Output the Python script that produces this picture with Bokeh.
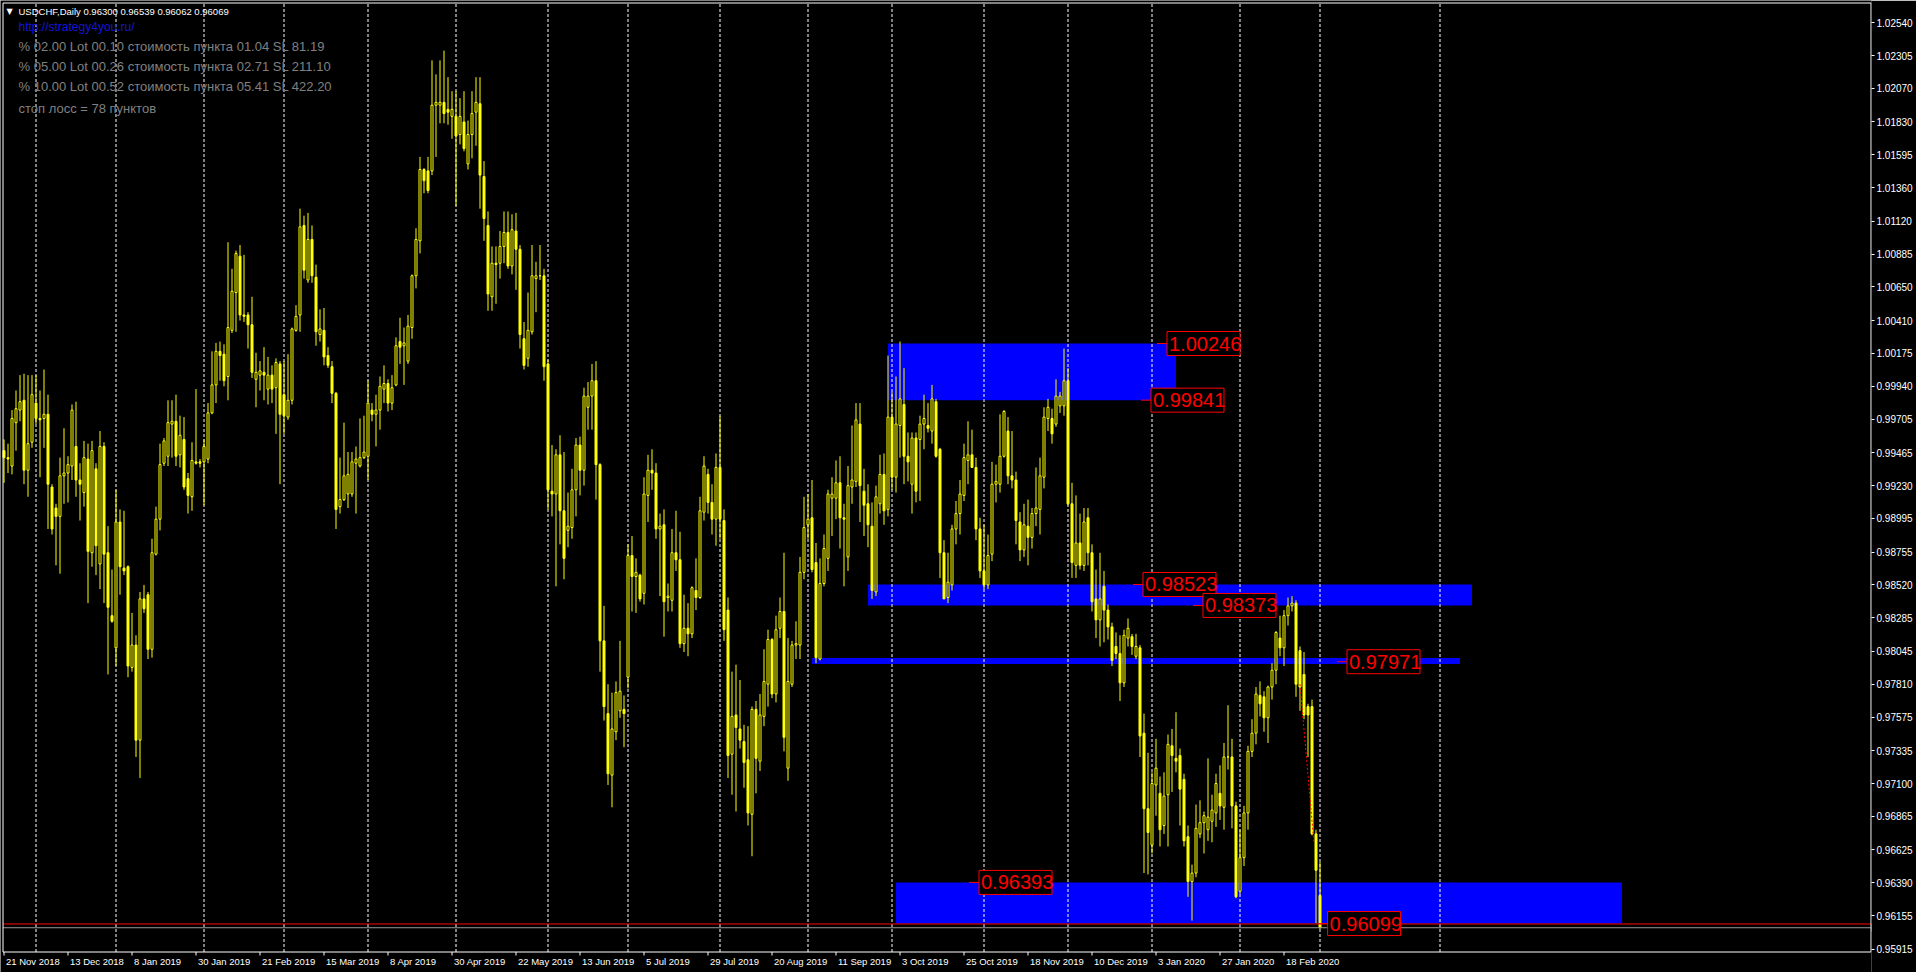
from bokeh.plotting import figure
from bokeh.models import (FixedTicker, PrintfTickFormatter, Label, ColumnDataSource, Range1d)
from bokeh.embed import file_html
from bokeh.resources import INLINE
from bokeh.core.properties import value

# ---------------- data (USDCHF daily, bar 0 = 21 Nov 2018, last = 2 Mar 2020) -------------
opens = [
    0.9948, 0.9943, 0.9937, 0.9968, 0.9977, 0.9984, 0.9934, 0.9954, 0.9982, 0.9971,
    0.9971, 0.9974, 0.9922, 0.9907, 0.9901, 0.9930, 0.9932, 0.9937, 0.9951, 0.9927,
    0.9918, 0.9942, 0.9875, 0.9935, 0.9867, 0.9951, 0.9875, 0.9830, 0.9807, 0.9897,
    0.9864, 0.9865, 0.9793, 0.9809, 0.9741, 0.9842, 0.9845, 0.9806, 0.9874, 0.9899,
    0.9939, 0.9944, 0.9967, 0.9969, 0.9945, 0.9956, 0.9928, 0.9915, 0.9940, 0.9940,
    0.9940, 0.9942, 0.9975, 0.9995, 1.0019, 1.0017, 1.0001, 1.0034, 1.0061, 1.0087,
    1.0045, 1.0045, 1.0038, 0.9999, 1.0002, 1.0004, 0.9992, 1.0002, 0.9993, 1.0010,
    0.9988, 0.9972, 0.9984, 1.0034, 1.0045, 1.0109, 1.0070, 1.0099, 1.0072, 1.0031,
    1.0034, 1.0016, 1.0008, 0.9989, 0.9908, 0.9913, 0.9917, 0.9917, 0.9939, 0.9937,
    0.9943, 0.9944, 0.9977, 0.9974, 0.9977, 0.9992, 0.9996, 0.9982, 0.9995, 1.0026,
    1.0023, 1.0012, 1.0036, 1.0073, 1.0098, 1.0149, 1.0148, 1.0148, 1.0195, 1.0195,
    1.0197, 1.0192, 1.0187, 1.0187, 1.0174, 1.0183, 1.0153, 1.0174, 1.0190, 1.0196,
    1.0144, 1.0109, 1.0058, 1.0082, 1.0082, 1.0094, 1.0104, 1.0080, 1.0105, 1.0092,
    1.0028, 1.0014, 1.0033, 1.0071, 1.0073, 1.0073, 1.0010, 0.9919, 0.9917, 0.9945,
    0.9905, 0.9891, 0.9893, 0.9920, 0.9952, 0.9934, 0.9979, 0.9987, 0.9998, 0.9938,
    0.9812, 0.9760, 0.9716, 0.9747, 0.9762, 0.9763, 0.9786, 0.9873, 0.9858, 0.9859,
    0.9846, 0.9916, 0.9934, 0.9932, 0.9892, 0.9895, 0.9843, 0.9841, 0.9875, 0.9870,
    0.9810, 0.9821, 0.9817, 0.9848, 0.9843, 0.9904, 0.9931, 0.9911, 0.9899, 0.9936,
    0.9898, 0.9834, 0.9731, 0.9759, 0.9749, 0.9740, 0.9727, 0.9688, 0.9763, 0.9726,
    0.9758, 0.9781, 0.9813, 0.9774, 0.9821, 0.9833, 0.9721, 0.9781, 0.9809, 0.9809,
    0.9861, 0.9895, 0.9900, 0.9868, 0.9799, 0.9853, 0.9871, 0.9914, 0.9914, 0.9925,
    0.9900, 0.9872, 0.9922, 0.9926, 0.9967, 0.9919, 0.9910, 0.9894, 0.9847, 0.9910,
    0.9931, 0.9906, 0.9972, 0.9929, 0.9966, 0.9981, 0.9944, 0.9924, 0.9957, 0.9956,
    0.9967, 0.9966, 0.9962, 0.9983, 0.9949, 0.9875, 0.9843, 0.9852, 0.9892, 0.9903,
    0.9916, 0.9941, 0.9945, 0.9936, 0.9892, 0.9862, 0.9852, 0.9874, 0.9924, 0.9924,
    0.9944, 0.9962, 0.9930, 0.9927, 0.9897, 0.9877, 0.9894, 0.9886, 0.9903, 0.9906,
    0.9929, 0.9971, 0.9971, 0.9967, 0.9980, 0.9980, 0.9998, 0.9910, 0.9866, 0.9882,
    0.9866, 0.9900, 0.9875, 0.9842, 0.9827, 0.9851, 0.9834, 0.9822, 0.9808, 0.9803,
    0.9782, 0.9814, 0.9815, 0.9801, 0.9807, 0.9746, 0.9692, 0.9666, 0.9709, 0.9703,
    0.9680, 0.9702, 0.9737, 0.9728, 0.9730, 0.9713, 0.9672, 0.9640, 0.9646, 0.9674,
    0.9682, 0.9677, 0.9683, 0.9689, 0.9703, 0.9693, 0.9729, 0.9729, 0.9694, 0.9633,
    0.9657, 0.9689, 0.9733, 0.9746, 0.9773, 0.9772, 0.9757, 0.9779, 0.9791, 0.9814,
    0.9807, 0.9830, 0.9837, 0.9839, 0.9805, 0.9788, 0.9765, 0.9765, 0.9674, 0.96300,
]
highs = [
    0.9956, 0.9953, 0.9977, 0.9991, 1.0002, 1.0003, 1.0002, 1.0002, 1.0002, 0.9991,
    1.0006, 0.9988, 0.9924, 0.9910, 0.9943, 0.9964, 0.9944, 0.9981, 0.9983, 0.9939,
    0.9955, 0.9953, 0.9955, 0.9939, 0.9962, 0.9954, 0.9894, 0.9863, 0.9920, 0.9906,
    0.9905, 0.9866, 0.9832, 0.9816, 0.9847, 0.9852, 0.9847, 0.9885, 0.9908, 0.9953,
    0.9957, 0.9984, 0.9984, 0.9988, 0.9973, 0.9972, 0.9932, 0.9954, 0.9992, 0.9942,
    0.9956, 0.9982, 1.0019, 1.0025, 1.0026, 1.0024, 1.0097, 1.0078, 1.0091, 1.0095,
    1.0088, 1.0047, 1.0058, 1.0018, 1.0012, 1.0022, 1.0015, 1.0009, 1.0014, 1.0012,
    1.0012, 1.0017, 1.0036, 1.0052, 1.0121, 1.0116, 1.0118, 1.0109, 1.0081, 1.0049,
    1.0050, 1.0022, 1.0012, 0.9990, 0.9943, 0.9968, 0.9947, 0.9947, 0.9951, 0.9971,
    0.9973, 0.9998, 0.9982, 0.9988, 1.0001, 1.0009, 0.9999, 1.0002, 1.0029, 1.0043,
    1.0036, 1.0045, 1.0074, 1.0107, 1.0158, 1.0150, 1.0158, 1.0227, 1.0217, 1.0227,
    1.0234, 1.0215, 1.0205, 1.0205, 1.0200, 1.0205, 1.0184, 1.0205, 1.0215, 1.0215,
    1.0155, 1.0119, 1.0094, 1.0094, 1.0105, 1.0119, 1.0119, 1.0117, 1.0118, 1.0095,
    1.0040, 1.0061, 1.0095, 1.0083, 1.0095, 1.0078, 1.0013, 0.9952, 0.9949, 0.9959,
    0.9947, 0.9918, 0.9935, 0.9957, 0.9958, 0.9993, 0.9997, 1.0010, 1.0012, 0.9939,
    0.9837, 0.9781, 0.9775, 0.9783, 0.9812, 0.9773, 0.9881, 0.9887, 0.9871, 0.9860,
    0.9929, 0.9945, 0.9949, 0.9939, 0.9903, 0.9906, 0.9853, 0.9892, 0.9905, 0.9890,
    0.9845, 0.9839, 0.9851, 0.9871, 0.9915, 0.9944, 0.9935, 0.9924, 0.9946, 0.9973,
    0.9906, 0.9843, 0.9790, 0.9795, 0.9784, 0.9752, 0.9751, 0.9765, 0.9769, 0.9774,
    0.9806, 0.9820, 0.9814, 0.9830, 0.9843, 0.9875, 0.9814, 0.9812, 0.9826, 0.9872,
    0.9915, 0.9917, 0.9927, 0.9882, 0.9871, 0.9888, 0.9920, 0.9929, 0.9941, 0.9944,
    0.9910, 0.9937, 0.9966, 0.9982, 0.9982, 0.9935, 0.9924, 0.9911, 0.9923, 0.9945,
    0.9946, 1.0016, 0.9990, 1.0001, 1.0026, 1.0007, 0.9961, 0.9961, 0.9961, 0.9973,
    0.9988, 0.9982, 0.9995, 0.9985, 0.9950, 0.9884, 0.9875, 0.9895, 0.9912, 0.9927,
    0.9953, 0.9969, 0.9963, 0.9943, 0.9900, 0.9895, 0.9888, 0.9940, 0.9938, 0.9974,
    0.9977, 0.9972, 0.9962, 0.9933, 0.9904, 0.9910, 0.9913, 0.9907, 0.9936, 0.9943,
    0.9979, 0.9985, 0.9978, 0.9999, 0.9990, 1.0021, 1.0007, 0.9925, 0.9916, 0.9903,
    0.9907, 0.9907, 0.9881, 0.9863, 0.9875, 0.9862, 0.9838, 0.9825, 0.9818, 0.9816,
    0.9820, 0.9828, 0.9817, 0.9817, 0.9809, 0.9760, 0.9732, 0.9718, 0.9742, 0.9715,
    0.9718, 0.9745, 0.9749, 0.9761, 0.9735, 0.9717, 0.9680, 0.9652, 0.9695, 0.9698,
    0.9690, 0.9728, 0.9702, 0.9717, 0.9723, 0.9739, 0.9766, 0.9742, 0.9697, 0.9677,
    0.9694, 0.9737, 0.9756, 0.9779, 0.9783, 0.9776, 0.9780, 0.9796, 0.9819, 0.9830,
    0.9834, 0.9843, 0.9844, 0.9841, 0.9808, 0.9804, 0.9767, 0.9770, 0.9677, 0.96539,
]
lows = [
    0.9925, 0.9932, 0.9931, 0.9948, 0.9969, 0.9924, 0.9915, 0.9950, 0.9967, 0.9929,
    0.9950, 0.9892, 0.9888, 0.9866, 0.9860, 0.9910, 0.9911, 0.9927, 0.9915, 0.9898,
    0.9908, 0.9839, 0.9865, 0.9859, 0.9849, 0.9839, 0.9788, 0.9825, 0.9794, 0.9845,
    0.9859, 0.9786, 0.9790, 0.9729, 0.9714, 0.9832, 0.9799, 0.9800, 0.9873, 0.9891,
    0.9937, 0.9937, 0.9943, 0.9937, 0.9936, 0.9920, 0.9903, 0.9905, 0.9938, 0.9936,
    0.9909, 0.9939, 0.9974, 0.9982, 0.9998, 0.9994, 0.9984, 1.0032, 1.0033, 1.0041,
    1.0040, 1.0021, 1.0000, 0.9979, 0.9991, 0.9984, 0.9981, 0.9982, 0.9960, 0.9924,
    0.9960, 0.9970, 0.9981, 1.0033, 1.0033, 1.0071, 1.0068, 1.0068, 1.0023, 1.0026,
    1.0009, 1.0007, 0.9982, 0.9892, 0.9903, 0.9912, 0.9907, 0.9915, 0.9903, 0.9936,
    0.9942, 0.9927, 0.9969, 0.9951, 0.9963, 0.9982, 0.9976, 0.9977, 0.9994, 1.0010,
    0.9995, 1.0010, 1.0028, 1.0064, 1.0089, 1.0132, 1.0132, 1.0145, 1.0158, 1.0182,
    1.0182, 1.0181, 1.0171, 1.0123, 1.0167, 1.0162, 1.0149, 1.0157, 1.0166, 1.0121,
    1.0098, 1.0048, 1.0048, 1.0053, 1.0071, 1.0082, 1.0078, 1.0074, 1.0063, 1.0021,
    1.0006, 1.0008, 1.0031, 1.0047, 1.0070, 0.9998, 0.9906, 0.9901, 0.9851, 0.9881,
    0.9856, 0.9879, 0.9885, 0.9901, 0.9916, 0.9923, 0.9963, 0.9963, 0.9913, 0.9790,
    0.9755, 0.9709, 0.9693, 0.9741, 0.9757, 0.9736, 0.9778, 0.9833, 0.9832, 0.9840,
    0.9838, 0.9897, 0.9920, 0.9885, 0.9844, 0.9815, 0.9833, 0.9833, 0.9862, 0.9807,
    0.9804, 0.9801, 0.9814, 0.9834, 0.9842, 0.9898, 0.9903, 0.9888, 0.9880, 0.9885,
    0.9812, 0.9714, 0.9702, 0.9690, 0.9735, 0.9707, 0.9680, 0.9658, 0.9703, 0.9719,
    0.9751, 0.9765, 0.9771, 0.9768, 0.9814, 0.9733, 0.9712, 0.9779, 0.9799, 0.9799,
    0.9856, 0.9885, 0.9861, 0.9796, 0.9798, 0.9851, 0.9862, 0.9887, 0.9899, 0.9878,
    0.9851, 0.9862, 0.9910, 0.9922, 0.9897, 0.9887, 0.9879, 0.9842, 0.9844, 0.9903,
    0.9895, 0.9901, 0.9920, 0.9918, 0.9943, 0.9924, 0.9926, 0.9903, 0.9911, 0.9912,
    0.9949, 0.9961, 0.9953, 0.9943, 0.9857, 0.9842, 0.9839, 0.9848, 0.9881, 0.9888,
    0.9912, 0.9924, 0.9936, 0.9884, 0.9857, 0.9849, 0.9849, 0.9869, 0.9911, 0.9918,
    0.9943, 0.9924, 0.9921, 0.9881, 0.9869, 0.9872, 0.9866, 0.9878, 0.9894, 0.9888,
    0.9921, 0.9962, 0.9953, 0.9965, 0.9975, 0.9973, 0.9909, 0.9857, 0.9857, 0.9863,
    0.9862, 0.9866, 0.9833, 0.9814, 0.9808, 0.9811, 0.9813, 0.9794, 0.9799, 0.9769,
    0.9779, 0.9808, 0.9802, 0.9799, 0.9729, 0.9646, 0.9645, 0.9660, 0.9687, 0.9665,
    0.9674, 0.9665, 0.9704, 0.9718, 0.9680, 0.9665, 0.9629, 0.9612, 0.9643, 0.9671,
    0.9660, 0.9669, 0.9668, 0.9679, 0.9684, 0.9677, 0.9720, 0.9678, 0.9628, 0.9631,
    0.9651, 0.9677, 0.9729, 0.9738, 0.9758, 0.9747, 0.9739, 0.9770, 0.9781, 0.9801,
    0.9794, 0.9823, 0.9833, 0.9772, 0.9762, 0.9756, 0.9729, 0.9673, 0.9610, 0.96062,
]
closes = [
    0.9943, 0.9942, 0.9971, 0.9978, 0.9983, 0.9934, 0.9953, 0.9988, 0.9971, 0.9970,
    0.9974, 0.9924, 0.9892, 0.9901, 0.9930, 0.9932, 0.9938, 0.9977, 0.9927, 0.9924,
    0.9943, 0.9876, 0.9948, 0.9880, 0.9951, 0.9874, 0.9836, 0.9826, 0.9897, 0.9865,
    0.9862, 0.9794, 0.9809, 0.9741, 0.9842, 0.9835, 0.9806, 0.9875, 0.9899, 0.9938,
    0.9955, 0.9968, 0.9969, 0.9944, 0.9959, 0.9922, 0.9916, 0.9941, 0.9939, 0.9939,
    0.9951, 0.9975, 0.9995, 1.0019, 1.0016, 0.9998, 1.0036, 1.0062, 1.0089, 1.0045,
    1.0044, 1.0038, 1.0004, 1.0004, 1.0005, 1.0002, 1.0002, 0.9992, 1.0011, 0.9974,
    0.9973, 0.9984, 1.0035, 1.0044, 1.0108, 1.0077, 1.0099, 1.0073, 1.0033, 1.0035,
    1.0015, 1.0009, 0.9989, 0.9906, 0.9913, 0.9930, 0.9931, 0.9940, 0.9942, 0.9943,
    0.9947, 0.9982, 0.9974, 0.9977, 0.9994, 0.9996, 0.9982, 0.9993, 1.0023, 1.0022,
    1.0025, 1.0037, 1.0073, 1.0099, 1.0149, 1.0141, 1.0134, 1.0195, 1.0197, 1.0197,
    1.0189, 1.0190, 1.0192, 1.0173, 1.0187, 1.0164, 1.0174, 1.0189, 1.0197, 1.0145,
    1.0114, 1.0060, 1.0082, 1.0081, 1.0094, 1.0104, 1.0080, 1.0106, 1.0092, 1.0031,
    1.0009, 1.0034, 1.0073, 1.0073, 1.0073, 1.0008, 0.9920, 0.9917, 0.9945, 0.9905,
    0.9871, 0.9894, 0.9920, 0.9952, 0.9934, 0.9987, 0.9987, 0.9998, 0.9938, 0.9812,
    0.9765, 0.9717, 0.9749, 0.9775, 0.9776, 0.9760, 0.9873, 0.9858, 0.9861, 0.9842,
    0.9917, 0.9934, 0.9932, 0.9892, 0.9894, 0.9840, 0.9844, 0.9875, 0.9870, 0.9810,
    0.9821, 0.9817, 0.9850, 0.9843, 0.9905, 0.9937, 0.9911, 0.9899, 0.9936, 0.9899,
    0.9820, 0.9730, 0.9758, 0.9750, 0.9741, 0.9725, 0.9689, 0.9763, 0.9728, 0.9759,
    0.9783, 0.9813, 0.9774, 0.9820, 0.9833, 0.9743, 0.9783, 0.9809, 0.9810, 0.9861,
    0.9893, 0.9899, 0.9863, 0.9800, 0.9853, 0.9878, 0.9917, 0.9917, 0.9925, 0.9900,
    0.9899, 0.9923, 0.9927, 0.9970, 0.9923, 0.9909, 0.9895, 0.9848, 0.9915, 0.9931,
    0.9905, 0.9972, 0.9929, 0.9967, 0.9985, 0.9944, 0.9940, 0.9957, 0.9919, 0.9967,
    0.9971, 0.9964, 0.9985, 0.9944, 0.9875, 0.9842, 0.9854, 0.9892, 0.9903, 0.9917,
    0.9943, 0.9945, 0.9936, 0.9892, 0.9862, 0.9852, 0.9873, 0.9924, 0.9926, 0.9944,
    0.9976, 0.9930, 0.9927, 0.9898, 0.9877, 0.9895, 0.9886, 0.9903, 0.9907, 0.9930,
    0.9972, 0.9979, 0.9960, 0.9987, 0.9987, 0.9998, 0.9910, 0.9868, 0.9882, 0.9866,
    0.9897, 0.9875, 0.9840, 0.9827, 0.9842, 0.9834, 0.9822, 0.9798, 0.9803, 0.9782,
    0.9816, 0.9821, 0.9808, 0.9808, 0.9744, 0.9692, 0.9675, 0.9710, 0.9721, 0.9677,
    0.9701, 0.9738, 0.9730, 0.9726, 0.9706, 0.9669, 0.9640, 0.9646, 0.9678, 0.9682,
    0.9687, 0.9686, 0.9691, 0.9710, 0.9694, 0.9729, 0.9729, 0.9694, 0.9629, 0.9657,
    0.9689, 0.9733, 0.9746, 0.9774, 0.9767, 0.9757, 0.9779, 0.9791, 0.9818, 0.9807,
    0.9830, 0.9837, 0.9839, 0.9781, 0.9779, 0.9759, 0.9759, 0.9674, 0.9648, 0.96069,
]

# date labels every 16 bars
date_labels = ["21 Nov 2018", "13 Dec 2018", "8 Jan 2019", "30 Jan 2019", "21 Feb 2019",
               "15 Mar 2019", "8 Apr 2019", "30 Apr 2019", "22 May 2019", "13 Jun 2019",
               "5 Jul 2019", "29 Jul 2019", "20 Aug 2019", "11 Sep 2019", "3 Oct 2019",
               "25 Oct 2019", "18 Nov 2019", "10 Dec 2019", "3 Jan 2020", "27 Jan 2020",
               "18 Feb 2020"]
# first bar of each month (vertical grid)
month_start_bars = [8, 28, 50, 70, 91, 113, 136, 156, 179, 201, 222, 245, 266, 287, 309, 329, 359]
# price scale labels
price_ticks = [1.02540, 1.02305, 1.02070, 1.01830, 1.01595, 1.01360, 1.01120, 1.00885,
               1.00650, 1.00410, 1.00175, 0.99940, 0.99705, 0.99465, 0.99230, 0.98995,
               0.98755, 0.98520, 0.98285, 0.98045, 0.97810, 0.97575, 0.97335, 0.97100,
               0.96865, 0.96625, 0.96390, 0.96155, 0.95915]

# support / resistance zones (bar from, bar to, top, bottom)
zone_from = [221, 216, 202, 223]
zone_to = [293, 367, 364, 404.5]
zone_top = [1.00246, 0.98523, 0.97997, 0.96393]
zone_bottom = [0.99841, 0.98373, 0.97954, 0.96099]

# price tags
tag_text = ["1.00246", "0.99841", "0.98523", "0.98373", "0.97971", "0.96393", "0.96099"]
tag_price = [1.00246, 0.99841, 0.98523, 0.98373, 0.97971, 0.96393, 0.96099]
tag_bar = [288.25, 284.25, 282.25, 297.25, 333.25, 241.25, 328.4]

bid_price = 0.96069
ask_price = 0.96096

header = "USDCHF,Daily  0.96300 0.96539 0.96062 0.96069"
url_text = "http://strategy4you.ru/"
info_lines = ["% 02.00  Lot 00.10  стоимость пункта 01.04  SL 81.19",
              "% 05.00  Lot 00.26  стоимость пункта 02.71  SL 211.10",
              "% 10.00  Lot 00.52  стоимость пункта 05.41  SL 422.20",
              "стоп лосс = 78 пунктов"]

# ---------------- layout helpers (pixel geometry of the terminal window) ----------------
W, H = 1916, 972
PX_PER_BAR = 4.0
FRAME_W = 1871                 # plotting frame spans x 0..1871, price scale to the right
X_START = -0.875               # bar i is drawn at pixel column 3 + 4 i
PRICE_AT_343 = 1.00246         # vertical price scale: 13987 px per 1.0
PX_PER_UNIT = 13987.0


def py2price(py):
    return PRICE_AT_343 - (py - 343.0) / PX_PER_UNIT


def px2bar(px):
    return px / PX_PER_BAR + X_START


chart_top = py2price(2.5)
chart_bottom = py2price(951.5)
bar_left = px2bar(2.5)
bar_right = px2bar(1870.5)

p = figure(width=W, height=H, output_backend="svg", toolbar_location=None,
           x_range=Range1d(X_START, X_START + FRAME_W / PX_PER_BAR),
           y_range=Range1d(py2price(H), py2price(0)),
           x_axis_location=None, y_axis_location="right",
           min_border_left=0, min_border_top=0, min_border_right=W - FRAME_W,
           min_border_bottom=0,
           background_fill_color="black", border_fill_color="black",
           outline_line_color=None)

# price scale
p.yaxis.ticker = FixedTicker(ticks=price_ticks)
p.yaxis.formatter = PrintfTickFormatter(format="%.5f")
p.yaxis.major_label_text_color = "white"
p.yaxis.major_label_text_font = "Liberation Sans"
p.yaxis.major_label_text_font_size = "10px"
p.yaxis.major_label_standoff = 2
p.yaxis.major_tick_out = 3
p.yaxis.major_tick_in = 0
p.yaxis.minor_tick_line_color = None
p.yaxis.axis_line_color = None
p.yaxis.major_tick_line_color = "white"
p.xgrid.grid_line_color = None
p.ygrid.grid_line_color = None

# zones (background objects)
p.quad(left=zone_from, right=zone_to, top=zone_top, bottom=zone_bottom,
       fill_color="#0000ff", line_color=None, level="image")

# vertical dotted grid at month starts
p.segment(x0=month_start_bars, x1=month_start_bars,
          y0=[chart_bottom] * len(month_start_bars), y1=[chart_top] * len(month_start_bars),
          line_color="white", line_width=1, line_dash="3 2", level="underlay")

# candles
n = len(opens)
idx = list(range(n))
all_src = ColumnDataSource(dict(x=idx, h=highs, l=lows))
bull = [i for i in idx if closes[i] >= opens[i]]
bear = [i for i in idx if closes[i] < opens[i]]
bull_src = ColumnDataSource(dict(x=bull, o=[opens[i] for i in bull], c=[closes[i] for i in bull]))
bear_src = ColumnDataSource(dict(x=bear, o=[opens[i] for i in bear], c=[closes[i] for i in bear]))
YEL = "#ffff00"
p.segment(x0="x", y0="l", x1="x", y1="h", source=all_src, line_color=YEL, line_width=1)
p.vbar(x="x", width=0.5, top="c", bottom="o", source=bull_src,
       fill_color="black", line_color=YEL, line_width=1)
p.vbar(x="x", width=0.5, top="o", bottom="c", source=bear_src,
       fill_color=YEL, line_color=YEL, line_width=1)

# trade history line
p.segment(x0=[324], y0=[0.9781], x1=[327.5], y1=[0.9667], line_color="#ff0000",
          line_width=1, line_dash="2 2")

# bid / ask lines
p.segment(x0=[bar_left, bar_left], x1=[bar_right, bar_right], y0=[ask_price, bid_price],
          y1=[ask_price, bid_price], line_color=["#ff0000", "#9a9a9a"], line_width=1)

# price tags
LEAD = 10.0 / PX_PER_BAR
BOX_W, BOX_H = 73, 24
tag_src = ColumnDataSource(dict(
    x0=tag_bar,
    x1=[b + LEAD for b in tag_bar],
    xc=[b + LEAD + BOX_W / 2 / PX_PER_BAR for b in tag_bar],
    y=tag_price, t=tag_text))
p.segment(x0="x0", y0="y", x1="x1", y1="y", source=tag_src, line_color="#ff0000", line_width=1)
p.rect(x="xc", y="y", width=BOX_W, height=BOX_H, width_units="screen", height_units="screen",
       source=tag_src, fill_color="black", line_color="#ff0000", line_width=1)
p.text(x="x1", y="y", text="t", source=tag_src, x_offset=2, text_align="left",
       text_baseline="middle", text_color="#ff0000", text_font_size="20px",
       text_font=value("Liberation Sans"))

# chart frame
p.segment(x0=[bar_left, bar_left, bar_left, bar_right],
          x1=[bar_right, bar_right, bar_left, bar_right],
          y0=[chart_top, chart_bottom, chart_top, chart_top],
          y1=[chart_top, chart_bottom, chart_bottom, chart_bottom],
          line_color="white", line_width=1)

# time scale: ticks and left aligned date labels
label_bars = [16 * k for k in range(len(date_labels))]
p.segment(x0=label_bars, x1=label_bars, y0=[chart_bottom] * len(label_bars),
          y1=[py2price(955)] * len(label_bars), line_color="white", line_width=1)
p.text(x=label_bars, y=[py2price(961)] * len(label_bars), text=date_labels, x_offset=2,
       text_align="left", text_baseline="middle", text_color="white",
       text_font=value("Liberation Sans"), text_font_size="9.5px")

# header texts (screen units measured from the frame bottom)
def sy(page_y):
    return H - page_y

p.add_layout(Label(x=6, y=sy(11), x_units="screen", y_units="screen", text="▼",
                   text_color="white", text_font="DejaVu Sans", text_font_size="8px",
                   text_baseline="middle"))
p.add_layout(Label(x=18, y=sy(11), x_units="screen", y_units="screen", text=header,
                   text_color="white", text_font="Liberation Sans", text_font_size="9.5px",
                   text_baseline="middle"))
p.add_layout(Label(x=18, y=sy(26), x_units="screen", y_units="screen", text=url_text,
                   text_color="#1414dc", text_font="Liberation Sans", text_font_size="12px",
                   text_baseline="middle"))
for k, line in enumerate(info_lines):
    line_y = [46, 66, 86, 108][k]
    p.add_layout(Label(x=18, y=sy(line_y), x_units="screen", y_units="screen", text=line,
                       text_color="#808080", text_font="Liberation Sans",
                       text_font_size="13px", text_baseline="middle"))

# price markers on the scale
p.add_layout(Label(x=FRAME_W, y=ask_price, x_units="screen", y_units="data",
                   text="0.96096", text_color="white", background_fill_color="#ff0000",
                   text_font="Liberation Sans", text_font_size="10px",
                   text_baseline="middle"))
p.add_layout(Label(x=FRAME_W, y=bid_price, x_units="screen", y_units="data",
                   text="0.96069", text_color="black", background_fill_color="white",
                   text_font="Liberation Sans", text_font_size="10px",
                   text_baseline="middle"))

open("out.html", "w").write(file_html(p, INLINE))
